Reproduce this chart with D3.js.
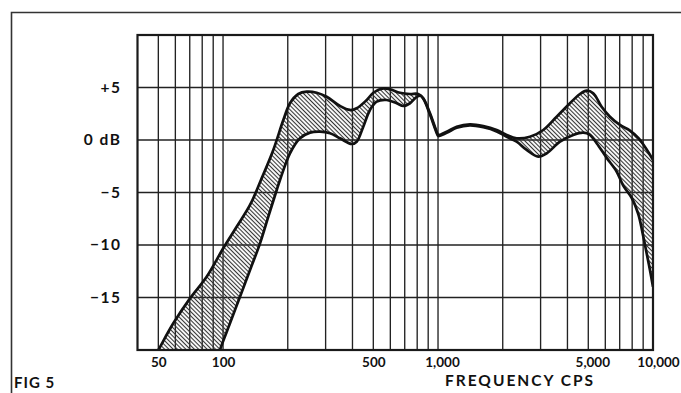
<!DOCTYPE html>
<html>
<head>
<meta charset="utf-8">
<script src="https://cdn.jsdelivr.net/npm/d3@7"></script>
<style>
  html, body { margin: 0; padding: 0; background: #fff; }
  svg { display: block; }
  text { font-family: Lato, "Open Sans", sans-serif; font-weight: 700; fill: #111; }
</style>
</head>
<body>
<div id="chart"></div>
<script>
// ---------------- data ----------------
// upper boundary of the response band (frequency Hz, dB)
const upperFreq = [46, 50, 58.7, 70.2, 83.9, 100.2, 115.7, 133.5, 150.1, 171.3, 190.7, 204.8, 223.9, 245, 272.7, 303.4, 349.9, 389.4, 418.4, 466, 500, 556.5, 597.7, 665.3, 740.5, 809, 854, 917.6, 985.6, 1002.5, 1096.8, 1220.9, 1408, 1624, 1874, 2086, 2321, 2677, 3087, 3564, 4108, 4573, 4916, 5272, 5768, 6305, 7020, 7813, 8541, 9343, 10000];
const upperDb   = [-21.3, -20.0, -17.46, -15.08, -13.02, -10.31, -8.26, -6.19, -3.81, -0.95, 1.9, 3.5, 4.38, 4.6, 4.5, 4.12, 3.24, 2.86, 3.02, 3.81, 4.5, 4.92, 4.83, 4.5, 4.38, 4.38, 3.97, 2.54, 0.79, 0.48, 0.79, 1.27, 1.5, 1.33, 0.95, 0.48, 0.16, 0.31, 0.95, 2.22, 3.5, 4.38, 4.7, 4.45, 3.17, 2.22, 1.43, 0.9, 0.2, -0.9, -1.9];

// lower boundary of the response band (frequency Hz, dB)
const lowerFreq = [92, 96.7, 107.7, 119.9, 133.5, 148.6, 162.4, 177.7, 184, 204.8, 228, 253.8, 282.6, 314.5, 349.9, 396.6, 418.4, 449, 482.4, 518.4, 576.8, 642.4, 689.2, 740.5, 795.6, 830, 860, 917.6, 985.6, 1002.5, 1096.8, 1220.9, 1408, 1624, 1874, 2086, 2321, 2584, 2926, 3202, 3692, 4256, 4737, 5092, 5468, 6088, 6771, 7271, 7956, 8541, 8951, 9343, 9677, 10000];
const lowerDb   = [-21.5, -20.0, -17.46, -14.92, -12.38, -9.84, -7.30, -4.76, -3.81, -1.27, 0.16, 0.7, 0.79, 0.64, 0.16, -0.38, -0.16, 1.27, 2.86, 3.65, 3.81, 3.5, 3.24, 3.5, 4.1, 4.22, 3.82, 2.42, 0.68, 0.38, 0.68, 1.16, 1.39, 1.21, 0.82, 0.3, -0.16, -0.95, -1.59, -1.27, -0.16, 0.48, 0.7, 0.48, -0.31, -1.7, -3.0, -4.35, -5.5, -7.05, -8.89, -10.79, -12.38, -13.97];

// axis ticks and labels
const xTickValues = [50, 100, 500, 1000, 5000, 10000];
const xTickLabels = ["50", "100", "500", "1,000", "5,000", "10,000"];
const yTickValues = [5, 0, -5, -10, -15];
const yTickLabels = ["+5", "0 dB", "\u22125", "\u221210", "\u221215"];
const xGridValues = [50, 60, 70, 80, 90, 100, 200, 300, 400, 500, 600, 700, 800, 900, 1000, 2000, 3000, 4000, 5000, 6000, 7000, 8000, 9000];
const yGridValues = [5, 0, -5, -10, -15];
const xDomain = [40, 10000];
const yDomain = [-20, 10];
const xTitle = "FREQUENCY CPS";
const figLabel = "FIG 5";

// ---------------- drawing ----------------
const W = 681, H = 393;
const svg = d3.select("#chart").append("svg").attr("width", W).attr("height", H);

const x = d3.scaleLog().domain(xDomain).range([137.5, 653]);
const y = d3.scaleLinear().domain(yDomain).range([350, 35]);

const defs = svg.append("defs");
const pat = defs.append("pattern")
  .attr("id", "hatch").attr("patternUnits", "userSpaceOnUse")
  .attr("width", 3).attr("height", 3)
  .attr("patternTransform", "rotate(-45)");
pat.append("line").attr("x1", 1.5).attr("y1", -1).attr("x2", 1.5).attr("y2", 4)
  .attr("stroke", "#333").attr("stroke-width", 1.1);

defs.append("clipPath").attr("id", "plotclip").append("rect")
  .attr("x", x(xDomain[0])).attr("y", y(yDomain[1]))
  .attr("width", x(xDomain[1]) - x(xDomain[0]))
  .attr("height", y(yDomain[0]) - y(yDomain[1]));

// outer page border (top and left)
svg.append("path").attr("d", "M11.5,393 L11.5,12.5 L681,12.5")
  .attr("fill", "none").attr("stroke", "#333").attr("stroke-width", 1.6);

// grid
const grid = svg.append("g");
grid.selectAll("line.v").data(xGridValues).join("line")
  .attr("x1", d => x(d)).attr("x2", d => x(d))
  .attr("y1", y(yDomain[1])).attr("y2", y(yDomain[0]))
  .attr("stroke", "#222").attr("stroke-width", 1.35);
grid.selectAll("line.h").data(yGridValues).join("line")
  .attr("y1", d => y(d)).attr("y2", d => y(d))
  .attr("x1", x(xDomain[0])).attr("x2", x(xDomain[1]))
  .attr("stroke", "#222").attr("stroke-width", 1.6);

// band
const upper = upperFreq.map((f, i) => [x(f), y(upperDb[i])]);
const lower = lowerFreq.map((f, i) => [x(f), y(lowerDb[i])]);
const line = d3.line().curve(d3.curveCatmullRom.alpha(0.5));
const bandPath = line(upper) + "L" + line(lower.slice().reverse()).slice(1) + "Z";

const band = svg.append("g").attr("clip-path", "url(#plotclip)");
band.append("path").attr("d", bandPath).attr("fill", "url(#hatch)");
band.append("path").attr("d", line(upper)).attr("fill", "none")
  .attr("stroke", "#111").attr("stroke-width", 2.7).attr("stroke-linejoin", "round");
band.append("path").attr("d", line(lower)).attr("fill", "none")
  .attr("stroke", "#111").attr("stroke-width", 2.7).attr("stroke-linejoin", "round");

// frame
svg.append("rect")
  .attr("x", x(xDomain[0])).attr("y", y(yDomain[1]))
  .attr("width", x(xDomain[1]) - x(xDomain[0]))
  .attr("height", y(yDomain[0]) - y(yDomain[1]))
  .attr("fill", "none").attr("stroke", "#1a1a1a").attr("stroke-width", 2.2);

// axes (labels only)
const xAxis = d3.axisBottom(x).tickValues(xTickValues)
  .tickFormat((d, i) => xTickLabels[i]).tickSize(0).tickPadding(7);
const gx = svg.append("g").attr("transform", `translate(0,${y(yDomain[0])})`).call(xAxis);
gx.select(".domain").remove();
gx.selectAll("text").attr("font-size", 13.5).attr("fill", "#111")
  .attr("font-family", "Lato, sans-serif").attr("font-weight", 700)
  .attr("dx", (d, i) => xTickLabels[i].includes(",") ? (xTickLabels[i].length > 5 ? 5 : 4) : 0);

const yAxis = d3.axisLeft(y).tickValues(yTickValues)
  .tickFormat((d, i) => yTickLabels[i]).tickSize(0).tickPadding(16);
const gy = svg.append("g").attr("transform", `translate(${x(xDomain[0])},0)`).call(yAxis);
gy.select(".domain").remove();
gy.selectAll("text").attr("font-size", 15.5).attr("fill", "#111")
  .attr("font-family", "Lato, sans-serif").attr("font-weight", 700)
  .attr("letter-spacing", 1.5);

svg.append("text").attr("x", 520).attr("y", 386).attr("text-anchor", "middle")
  .attr("font-size", 15.5).attr("letter-spacing", 2).text(xTitle);

svg.append("text").attr("x", 14).attr("y", 388)
  .attr("font-size", 15).attr("letter-spacing", 1).text(figLabel);
</script>
</body>
</html>
